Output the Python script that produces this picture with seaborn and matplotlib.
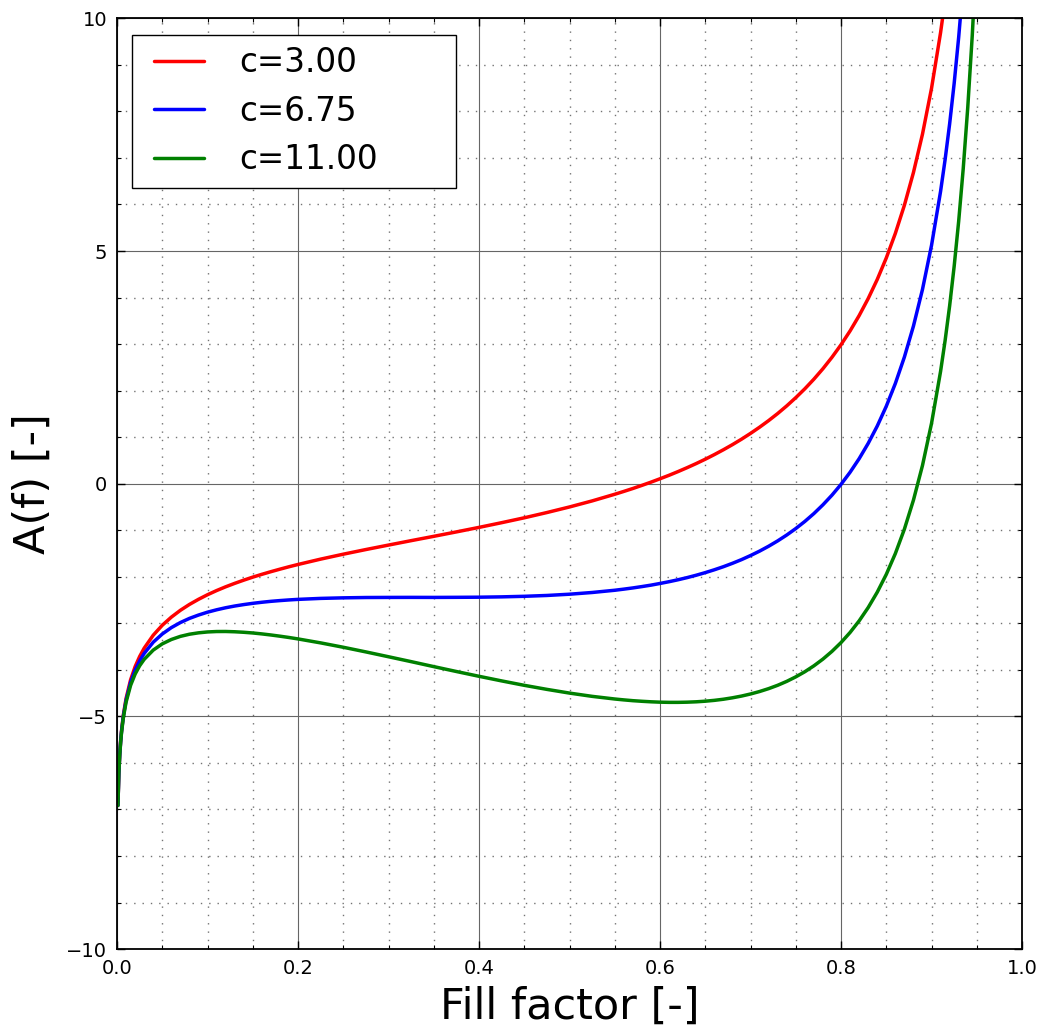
import numpy as np
import pandas as pd
import seaborn as sns
import matplotlib
matplotlib.use("Agg")
import matplotlib.pyplot as plt
from matplotlib.ticker import MultipleLocator
from matplotlib.lines import Line2D
from matplotlib.legend_handler import HandlerLine2D

# Fill factor sample positions
fill = [0.001, 0.002, 0.003, 0.004, 0.005, 0.007, 0.01, 0.015, 0.02, 0.025,
        0.03, 0.04, 0.05, 0.06, 0.07, 0.08, 0.09, 0.10, 0.11, 0.12,
        0.13, 0.14, 0.15, 0.16, 0.17, 0.18, 0.19, 0.20, 0.225, 0.25,
        0.275, 0.30, 0.325, 0.35, 0.375, 0.40, 0.425, 0.45, 0.475, 0.50,
        0.525, 0.55, 0.56, 0.57, 0.58, 0.59, 0.60, 0.61, 0.62, 0.63,
        0.64, 0.65, 0.66, 0.67, 0.68, 0.69, 0.70, 0.71, 0.72, 0.73,
        0.74, 0.75, 0.76, 0.77, 0.78, 0.79, 0.80, 0.81, 0.82, 0.83,
        0.84, 0.85, 0.86, 0.87, 0.88, 0.89, 0.90, 0.91, 0.915, 0.92,
        0.925, 0.93, 0.935, 0.94, 0.945, 0.95]

a_c300 = [-6.909, -6.217, -5.812, -5.526, -5.303, -4.969, -4.615, -4.214, -3.931, -3.713,
          -3.535, -3.256, -3.042, -2.868, -2.721, -2.595, -2.485, -2.386, -2.297, -2.216,
          -2.142, -2.073, -2.008, -1.948, -1.891, -1.837, -1.785, -1.736, -1.621, -1.515,
          -1.415, -1.319, -1.224, -1.131, -1.036, -0.939, -0.838, -0.733, -0.620, -0.500,
          -0.370, -0.227, -0.166, -0.103, -0.036, 0.033, 0.106, 0.181, 0.261, 0.345,
          0.433, 0.526, 0.625, 0.729, 0.839, 0.956, 1.081, 1.214, 1.356, 1.508,
          1.672, 1.849, 2.039, 2.246, 2.471, 2.717, 2.986, 3.283, 3.612, 3.978,
          4.388, 4.851, 5.378, 5.983, 6.686, 7.512, 8.497, 9.695, 10.396, 11.182]

a_c675 = [-6.913, -6.225, -5.823, -5.541, -5.322, -4.995, -4.653, -4.270, -4.006, -3.807,
          -3.648, -3.406, -3.230, -3.093, -2.984, -2.895, -2.823, -2.761, -2.710, -2.666,
          -2.629, -2.598, -2.571, -2.548, -2.528, -2.512, -2.498, -2.486, -2.465, -2.453,
          -2.446, -2.444, -2.443, -2.444, -2.442, -2.439, -2.432, -2.420, -2.402, -2.375,
          -2.338, -2.290, -2.266, -2.240, -2.211, -2.180, -2.144, -2.106, -2.064, -2.018,
          -1.967, -1.911, -1.850, -1.784, -1.711, -1.632, -1.544, -1.449, -1.344, -1.229,
          -1.103, -0.964, -0.811, -0.642, -0.454, -0.246, -0.014, 0.246, 0.537, 0.866,
          1.238, 1.664, 2.153, 2.721, 3.386, 4.175, 5.122, 6.283, 6.965, 7.732,
          8.602, 9.595, 10.740, 12.073]

a_c1100 = [-6.917, -6.233, -5.836, -5.558, -5.343, -5.025, -4.695, -4.334, -4.091, -3.913,
           -3.775, -3.576, -3.442, -3.348, -3.281, -3.235, -3.205, -3.186, -3.177, -3.176,
           -3.182, -3.193, -3.208, -3.228, -3.251, -3.277, -3.305, -3.336, -3.421, -3.515,
           -3.615, -3.719, -3.824, -3.931, -4.036, -4.139, -4.238, -4.333, -4.420, -4.500,
           -4.570, -4.627, -4.646, -4.663, -4.676, -4.687, -4.695, -4.699, -4.699, -4.695,
           -4.687, -4.674, -4.656, -4.632, -4.601, -4.564, -4.519, -4.466, -4.404, -4.332,
           -4.248, -4.151, -4.041, -3.914, -3.769, -3.603, -3.414, -3.197, -2.948, -2.662,
           -2.332, -1.949, -1.502, -0.977, -0.354, 0.392, 1.297, 2.415, 3.076, 3.822,
           4.671, 5.642, 6.766, 8.078, 9.631, 11.494]

labels = ["c=3.00", "c=6.75", "c=11.00"]
colors = ["#ff0000", "#0000ff", "#008000"]
xticks = [0.0, 0.2, 0.4, 0.6, 0.8, 1.0]
yticks = [-10, -5, 0, 5, 10]

frames = []
for lab, vals in zip(labels, [a_c300, a_c675, a_c1100]):
    frames.append(pd.DataFrame({"f": fill[:len(vals)], "A": vals, "series": lab}))
df = pd.concat(frames, ignore_index=True)

sns.set_style("ticks")
plt.rcParams["font.family"] = ["DejaVu Sans"]
plt.rcParams["axes.unicode_minus"] = True
plt.rcParams["text.color"] = "black"
plt.rcParams["axes.labelcolor"] = "black"
plt.rcParams["xtick.color"] = "black"
plt.rcParams["ytick.color"] = "black"

fig = plt.figure(figsize=(10.43, 10.30), dpi=100)
ax = fig.add_axes([0.1122, 0.0786, 0.8677, 0.9036])

sns.lineplot(data=df, x="f", y="A", hue="series", hue_order=labels,
             palette=colors, sort=False, estimator=None, linewidth=2.5, ax=ax)

ax.set_xlim(0, 1)
ax.set_ylim(-10, 10)
ax.set_xticks(xticks)
ax.set_yticks(yticks)
ax.set_xticklabels([f"{v:.1f}" for v in xticks])
ax.xaxis.set_minor_locator(MultipleLocator(0.05))
ax.yaxis.set_minor_locator(MultipleLocator(1))

ax.set_axisbelow(True)
ax.grid(which="major", linestyle="-", color="0.4", linewidth=0.8)
ax.grid(which="minor", linestyle=(0, (1, 5)), color="0.45", linewidth=1.0)

for s in ax.spines.values():
    s.set_visible(True)
    s.set_color("black")
    s.set_linewidth(1.3)

ax.tick_params(which="both", direction="in", top=True, right=True, colors="black")
ax.tick_params(which="major", length=6, width=1.0, labelsize=14, pad=7)
ax.tick_params(which="minor", length=3, width=0.8)

ax.set_xlabel("Fill factor [-]", fontsize=31, labelpad=6)
ax.set_ylabel("A(f) [-]", fontsize=31, labelpad=9)

handles, labs = ax.get_legend_handles_labels()
leg = ax.legend(handles, labs, loc="upper left", mode="expand",
                bbox_to_anchor=(0.0169, 0.0, 0.3577, 0.9821), borderaxespad=0.0,
                fontsize=23.5, frameon=True, fancybox=False,
                framealpha=1, edgecolor="black", handlelength=1.85,
                handletextpad=1.07, borderpad=0.35, labelspacing=0.47,
                handler_map={Line2D: HandlerLine2D(xpad=0.316)})
leg.get_frame().set_linewidth(1.0)
for line in leg.get_lines():
    line.set_linewidth(2.5)

fig.savefig("out.png", dpi=100, facecolor="white")
